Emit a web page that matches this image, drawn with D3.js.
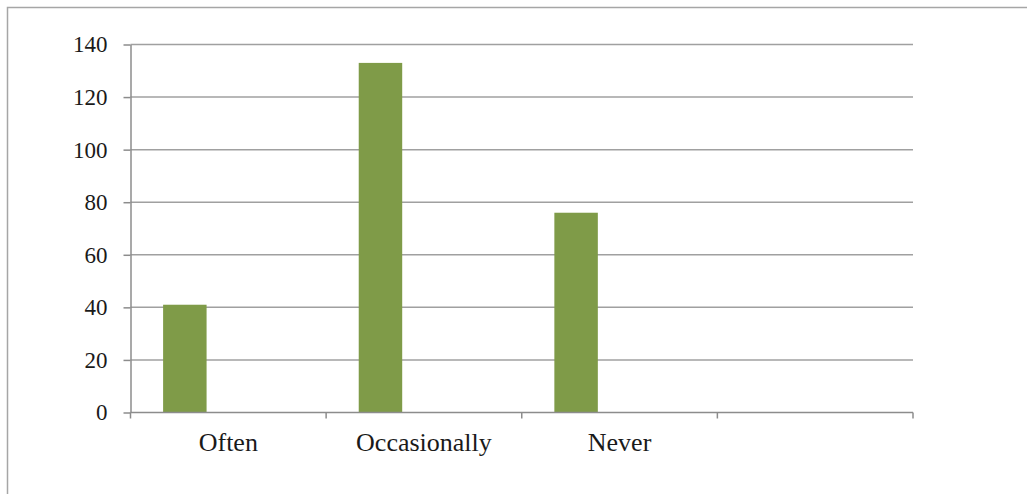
<!DOCTYPE html>
<html>
<head>
<meta charset="utf-8">
<script src="https://cdn.jsdelivr.net/npm/d3@7"></script>
<style>
  html, body { margin: 0; padding: 0; background: #fff; }
  svg { display: block; }
  svg text { font-family: "Liberation Serif", "Times New Roman", Times, "DejaVu Serif", serif !important; fill: #1a1a1a; }
</style>
</head>
<body>
<svg id="chart" width="1027" height="494"></svg>
<script>
// Survey responses by frequency
const categories = ["Often", "Occasionally", "Never", ""];
const seriesNames = ["Series 1", "Series 2", "Series 3"];
const series1 = [41, 133, 76, null];
const yTicks = [0, 20, 40, 60, 80, 100, 120, 140];

const W = 1027, H = 494;
const plot = { left: 130.5, right: 913, top: 44.5, bottom: 412.5 };
const FONT = '"Liberation Serif", "Times New Roman", Times, "DejaVu Serif", serif';

const svg = d3.select("#chart");

// outer frame
svg.append("rect")
  .attr("x", 7.5).attr("y", 7.5)
  .attr("width", W + 20).attr("height", H + 20)
  .attr("fill", "none").attr("stroke", "#a6a6a6").attr("stroke-width", 1.5);

const x = d3.scaleBand().domain(d3.range(categories.length))
  .range([plot.left, plot.right]).paddingInner(0).paddingOuter(0);
const xs = d3.scaleBand().domain(seriesNames)
  .range([0, x.bandwidth()]).paddingInner(0).paddingOuter(0.75);
const y = d3.scaleLinear().domain([0, 140]).range([plot.bottom, plot.top]);

// horizontal gridlines
svg.append("g").selectAll("line").data(yTicks.filter(d => d > 0)).join("line")
  .attr("x1", plot.left).attr("x2", plot.right)
  .attr("y1", d => y(d)).attr("y2", d => y(d))
  .attr("stroke", "#a0a0a0").attr("stroke-width", 1.5);

// bars
svg.append("g").selectAll("rect").data(series1.map((v, i) => ({ v, i })).filter(d => d.v != null)).join("rect")
  .attr("x", d => x(d.i) + xs("Series 1"))
  .attr("width", xs.bandwidth())
  .attr("y", d => y(d.v))
  .attr("height", d => y(0) - y(d.v))
  .attr("fill", "#7f9b48");

// y axis
const yAxis = d3.axisLeft(y).tickValues(yTicks).tickSize(7).tickPadding(16).tickSizeOuter(0);
const gy = svg.append("g").attr("transform", `translate(${plot.left},0)`).call(yAxis)
  .attr("font-family", null);
gy.selectAll("path, line").attr("stroke", "#8c8c8c").attr("stroke-width", 1.5);
gy.selectAll("text").attr("font-size", 23).style("font-family", FONT).attr("fill", "#1a1a1a");

// x axis: boundary ticks between categories
const bounds = d3.range(categories.length + 1).map(i => plot.left + i * x.step());
const gx = svg.append("g");
gx.append("line").attr("x1", plot.left).attr("x2", plot.right)
  .attr("y1", y(0)).attr("y2", y(0))
  .attr("stroke", "#8c8c8c").attr("stroke-width", 1.5);
gx.selectAll("line.tick").data(bounds).join("line").attr("class", "tick")
  .attr("x1", d => d).attr("x2", d => d)
  .attr("y1", y(0)).attr("y2", y(0) + 6)
  .attr("stroke", "#8c8c8c").attr("stroke-width", 1.5);
gx.selectAll("text").data(categories).join("text")
  .attr("x", (d, i) => x(i) + x.bandwidth() / 2)
  .attr("y", 451)
  .attr("text-anchor", "middle")
  .attr("font-size", 26)
  .style("font-family", FONT)
  .text(d => d);
</script>
</body>
</html>
